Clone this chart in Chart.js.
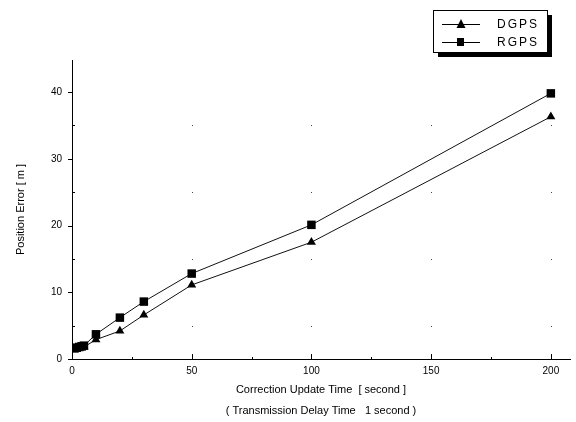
<!DOCTYPE html>
<html>
<head>
<meta charset="utf-8">
<title>Position Error vs Correction Update Time</title>
<script src="https://cdn.jsdelivr.net/npm/chart.js@4"></script>
<style>
    html, body { margin: 0; padding: 0; background: #fff; }
    #wrap { position: relative; width: 576px; height: 422px; }
</style>
</head>
<body>
<div id="wrap"><canvas id="errChart" width="576" height="422"></canvas></div>
<script>
// Update interval (s) and position error (m) for each receiver mode
const updateTimes = [1, 2, 3, 4, 5, 10, 20, 30, 50, 100, 200];
const dgpsError = [1.4, 1.5, 1.6, 1.7, 1.8, 2.9, 4.2, 6.6, 11.1, 17.5, 36.3];
const rgpsError = [1.6, 1.7, 1.8, 1.9, 2.0, 3.7, 6.2, 8.6, 12.8, 20.1, 39.8];

const xMajorTicks = [0, 50, 100, 150, 200];
const yMajorTicks = [0, 10, 20, 30, 40];
const dotXs = [50, 100, 150, 200];
const dotYs = [5, 15, 25, 35];

const FONT = '"Liberation Sans", Arial, sans-serif';

const toPoints = (ys) => updateTimes.map((t, i) => ({ x: t, y: ys[i] }));

// Tick marks, faint grid dots and the boxed legend
const decorations = {
    id: 'decorations',
    beforeDatasetsDraw(chart) {
        const { ctx, scales: { x, y } } = chart;
        ctx.save();
        ctx.fillStyle = '#444';
        dotXs.forEach(dx => dotYs.forEach(dy => {
            ctx.fillRect(Math.round(x.getPixelForValue(dx)), Math.round(y.getPixelForValue(dy)), 1, 1);
        }));

        ctx.strokeStyle = '#000';
        ctx.lineWidth = 1;
        const x0 = x.left, y0 = y.bottom;
        y.ticks.forEach(t => {
            const py = Math.round(y.getPixelForValue(t.value)) + 0.5;
            ctx.beginPath();
            if (yMajorTicks.includes(t.value)) {
                ctx.moveTo(x0 - 4, py); ctx.lineTo(x0, py);
            } else {
                ctx.moveTo(x0, py); ctx.lineTo(x0 + 3, py);
            }
            ctx.stroke();
        });
        x.ticks.forEach(t => {
            const px = Math.round(x.getPixelForValue(t.value)) + 0.5;
            const len = xMajorTicks.includes(t.value) ? 5 : 2;
            ctx.beginPath();
            ctx.moveTo(px, y0); ctx.lineTo(px, y0 - len);
            ctx.stroke();
        });
        ctx.restore();
    },
    afterDraw(chart) {
        const { ctx } = chart;
        const bx = 433, by = 10, bw = 114, bh = 42;
        ctx.save();
        // drop shadow then box
        ctx.fillStyle = '#000';
        ctx.fillRect(bx + 5, by + 5, bw, bh);
        ctx.fillStyle = '#fff';
        ctx.fillRect(bx, by, bw, bh);
        ctx.strokeStyle = '#000';
        ctx.lineWidth = 1;
        ctx.strokeRect(bx + 0.5, by + 0.5, bw, bh);

        ctx.font = '12px ' + FONT;
        ctx.letterSpacing = '2px';
        ctx.textBaseline = 'middle';
        chart.data.datasets.forEach((ds, i) => {
            const ly = by + 14 + i * 18;
            ctx.strokeStyle = '#000';
            ctx.beginPath();
            ctx.moveTo(bx + 9, ly + 0.5);
            ctx.lineTo(bx + 47, ly + 0.5);
            ctx.stroke();
            ctx.fillStyle = '#000';
            if (ds.pointStyle === 'triangle') {
                ctx.beginPath();
                ctx.moveTo(bx + 28, ly - 5);
                ctx.lineTo(bx + 32.5, ly + 4);
                ctx.lineTo(bx + 23.5, ly + 4);
                ctx.closePath();
                ctx.fill();
            } else {
                ctx.fillRect(bx + 24, ly - 4, 7, 8);
            }
            ctx.fillText(ds.label, bx + 64, ly + 1);
        });
        ctx.restore();
    }
};

const ctx = document.getElementById('errChart').getContext('2d');
new Chart(ctx, {
    type: 'line',
    data: {
        datasets: [
            {
                label: 'DGPS',
                data: toPoints(dgpsError),
                borderColor: '#111',
                backgroundColor: '#000',
                borderWidth: 1,
                pointStyle: 'triangle',
                pointRadius: 5.2,
                pointBorderWidth: 0,
                tension: 0
            },
            {
                label: 'RGPS',
                data: toPoints(rgpsError),
                borderColor: '#111',
                backgroundColor: '#000',
                borderWidth: 1,
                pointStyle: 'rect',
                pointRadius: 6,
                pointBorderWidth: 0,
                tension: 0
            }
        ]
    },
    options: {
        responsive: false,
        animation: false,
        layout: { padding: { top: 60, right: 3, left: 0, bottom: 0 } },
        plugins: {
            legend: { display: false },
            tooltip: { enabled: false }
        },
        scales: {
            x: {
                type: 'linear',
                min: 0,
                max: 208,
                afterBuildTicks: (s) => { s.ticks = s.ticks.filter(t => t.value % 25 === 0); },
                afterFit: (s) => { s.height = 63; },
                grid: { display: false, drawTicks: false },
                border: { display: true, color: '#000', width: 1 },
                ticks: {
                    stepSize: 25,
                    includeBounds: false,
                    autoSkip: false,
                    padding: 6,
                    color: '#000',
                    maxRotation: 0,
                    font: { family: FONT, size: 10 },
                    callback: (v) => xMajorTicks.includes(v) ? String(v) : ''
                },
                title: {
                    display: true,
                    text: ['Correction Update Time  [ second ]', '( Transmission Delay Time   1 second )'],
                    color: '#000',
                    font: { family: FONT, size: 11, lineHeight: 1.9 },
                    padding: { top: 0, bottom: 1 }
                }
            },
            y: {
                type: 'linear',
                min: 0,
                max: 44.8,
                afterBuildTicks: (s) => { s.ticks = s.ticks.filter(t => t.value % 5 === 0); },
                afterFit: (s) => { s.width = 72; },
                grid: { display: false, drawTicks: false },
                border: { display: true, color: '#000', width: 1 },
                ticks: {
                    stepSize: 5,
                    includeBounds: false,
                    autoSkip: false,
                    padding: 10,
                    color: '#000',
                    font: { family: FONT, size: 10 },
                    callback: (v) => yMajorTicks.includes(v) ? String(v) : ''
                },
                title: {
                    display: true,
                    text: 'Position Error [ m ]',
                    color: '#000',
                    font: { family: FONT, size: 11 },
                    padding: { top: 14, bottom: 0 }
                }
            }
        }
    },
    plugins: [decorations]
});
</script>
</body>
</html>
